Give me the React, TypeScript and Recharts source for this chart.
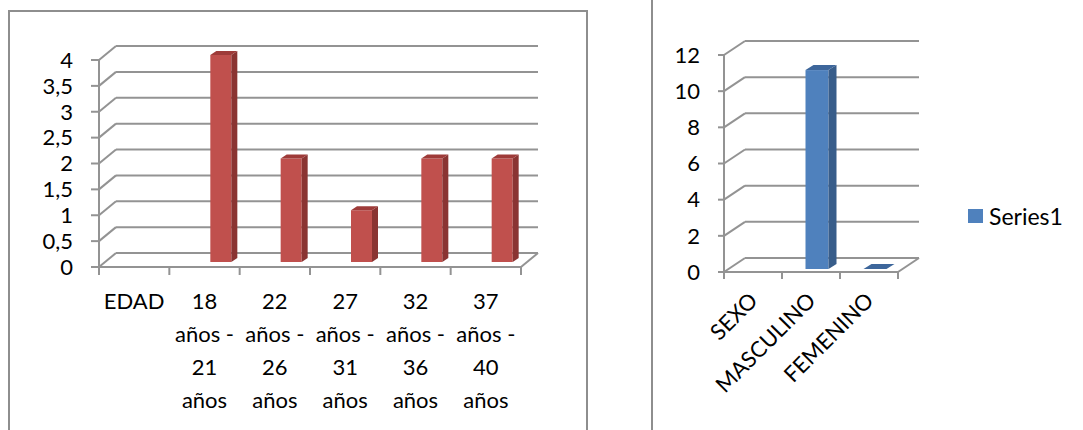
import { BarChart, Bar, XAxis, YAxis, CartesianGrid, Legend } from 'recharts';

// Age distribution
const edadCategories = ['EDAD', '18 años - 21 años', '22 años - 26 años', '27 años - 31 años', '32 años - 36 años', '37 años - 40 años'];
const edadValues = [null, 4, 2, 1, 2, 2];
const edadTicks = [0, 0.5, 1, 1.5, 2, 2.5, 3, 3.5, 4];

// Sex distribution
const sexoCategories = ['SEXO', 'MASCULINO', 'FEMENINO'];
const sexoValues = [null, 11, 0];
const sexoTicks = [0, 2, 4, 6, 8, 10, 12];
const seriesName = 'Series1';

const edadData = edadCategories.map((name, i) => ({ name, value: edadValues[i] }));
const sexoData = sexoCategories.map((name, i) => ({ name, value: sexoValues[i] }));

const FONT = 'Lato, "Open Sans", sans-serif';
const GRID = '#939393';

// back wall + left floor/side diagonals, drawn from each horizontal grid line
const wall = (dx: number, dy: number) => (props: any) => {
  const { x1, y1, x2, y2, index } = props;
  return (
    <g key={`wall-${index}-${y1}`}>
      <line x1={x1} y1={y1} x2={x1 + dx} y2={y1 - dy} stroke={GRID} strokeWidth={2} />
      <line x1={x1 + dx} y1={y1 - dy} x2={x2 + dx} y2={y2 - dy} stroke={GRID} strokeWidth={2} />
      {index === 0 && <line x1={x2} y1={y2} x2={x2 + dx} y2={y2 - dy} stroke={GRID} strokeWidth={2} />}
    </g>
  );
};

type PrismStyle = { dx: number; dy: number; depthX: number; depthY: number; front: string; side: string; top: string };

const prism = (o: PrismStyle) => (props: any) => {
  const { x, y, width, height, payload } = props;
  if (payload == null || payload.value == null) return <g />;
  const fx = x + o.dx;
  const fy = y + o.dy;
  const w = width;
  const h = height;
  const bx = fx + o.depthX;
  const by = fy - o.depthY;
  return (
    <g>
      {h > 0 && <rect x={fx} y={fy} width={w} height={h} fill={o.front} />}
      {h > 0 && (
        <polygon points={`${fx + w},${fy} ${bx + w},${by} ${bx + w},${by + h} ${fx + w},${fy + h}`} fill={o.side} />
      )}
      <polygon points={`${fx},${fy} ${bx},${by} ${bx + w},${by} ${fx + w},${fy}`} fill={o.top} />
    </g>
  );
};

// "18 años - 21 años" -> ["18", "años -", "21", "años"]
const splitLabel = (s: string) => {
  const parts = s.split(' - ');
  return parts.flatMap((p, i) => {
    const words = p.split(' ');
    if (words.length < 2) return [p + (i < parts.length - 1 ? ' -' : '')];
    return [words[0], words.slice(1).join(' ') + (i < parts.length - 1 ? ' -' : '')];
  });
};

const EdadTick = (props: any) => {
  const { x, y, payload, index } = props;
  const half = payload?.offset || 35;
  const lines = splitLabel(String(payload.value));
  return (
    <g>
      <line x1={x - half} y1={y} x2={x - half} y2={y + 8} stroke={GRID} strokeWidth={2} />
      {index === edadCategories.length - 1 && (
        <line x1={x + half} y1={y} x2={x + half} y2={y + 8} stroke={GRID} strokeWidth={2} />
      )}
      <text textAnchor="middle" fontFamily={FONT} fontSize={22} fill="#000">
        {lines.map((l, i) => (
          <tspan key={i} x={x} y={y + 42 + i * 33}>{l}</tspan>
        ))}
      </text>
    </g>
  );
};

const SexoTick = (props: any) => {
  const { x, y, payload, index } = props;
  const half = payload?.offset || 29;
  const px = x + 6;
  const py = y + 30;
  return (
    <g>
      <line x1={x - half} y1={y} x2={x - half} y2={y + 7} stroke={GRID} strokeWidth={2} />
      {index === sexoCategories.length - 1 && (
        <line x1={x + half} y1={y} x2={x + half} y2={y + 7} stroke={GRID} strokeWidth={2} />
      )}
      <text x={px} y={py} textAnchor="end" fontFamily={FONT} fontSize={22} fill="#000" transform={`rotate(-45 ${px} ${py})`}>
        {payload.value}
      </text>
    </g>
  );
};

const LegendContent = (props: any) => {
  const items = props.payload || [];
  return (
    <div style={{ fontFamily: FONT, fontSize: 23, color: '#000' }}>
      {items.map((it: any) => (
        <div key={it.value} style={{ display: 'flex', alignItems: 'center' }}>
          <span style={{ display: 'inline-block', width: 15, height: 14, background: it.color, marginRight: 6 }} />
          <span>{it.value}</span>
        </div>
      ))}
    </div>
  );
};

const axisTick = { fontFamily: FONT, fontSize: 22, fill: '#000' };

export default function App() {
  return (
    <div style={{ position: 'absolute', left: 0, top: 0, width: 1083, height: 430, overflow: 'hidden', background: '#fff' }}>
      <div style={{ position: 'absolute', left: 8, top: 10, width: 576, height: 440, border: '2px solid #8e8e8e' }} />
      <div style={{ position: 'absolute', left: 651, top: 0, width: 0, height: 430, borderLeft: '2px solid #8e8e8e' }} />

      <div style={{ position: 'absolute', left: 0, top: 0 }}>
        <BarChart width={600} height={430} data={edadData} margin={{ top: 60, right: 79, bottom: 133, left: 0 }} barSize={21}>
          <CartesianGrid vertical={false} horizontal={wall(17, 14)} />
          <XAxis
            dataKey="name"
            height={30}
            interval={0}
            tickLine={false}
            tickSize={0}
            tickMargin={0}
            axisLine={{ stroke: GRID, strokeWidth: 2 }}
            tick={<EdadTick />}
          />
          <YAxis
            width={99}
            domain={[0, 4]}
            ticks={edadTicks}
            interval={0}
            tickSize={8}
            tickMargin={18}
            tickFormatter={(v: number) => String(v).replace('.', ',')}
            axisLine={{ stroke: GRID, strokeWidth: 2 }}
            tickLine={{ stroke: GRID, strokeWidth: 2 }}
            tick={axisTick}
          />
          <Bar
            dataKey="value"
            name={seriesName}
            fill="#C0504D"
            isAnimationActive={false}
            shape={prism({ dx: 16, dy: -5, depthX: 6, depthY: 4, front: '#C0504D', side: '#8A3432', top: '#9E3B39' })}
          />
        </BarChart>
      </div>

      <div style={{ position: 'absolute', left: 655, top: 0 }}>
        <BarChart width={428} height={430} data={sexoData} margin={{ top: 55, right: 185, bottom: 128, left: 0 }} barSize={23}>
          <CartesianGrid vertical={false} horizontal={wall(21, 14)} />
          <XAxis
            dataKey="name"
            height={30}
            interval={0}
            tickLine={false}
            tickSize={0}
            tickMargin={0}
            axisLine={{ stroke: GRID, strokeWidth: 2 }}
            tick={<SexoTick />}
          />
          <YAxis
            width={69}
            domain={[0, 12]}
            ticks={sexoTicks}
            interval={0}
            tickSize={6}
            tickMargin={18}
            axisLine={{ stroke: GRID, strokeWidth: 2 }}
            tickLine={{ stroke: GRID, strokeWidth: 2 }}
            tick={axisTick}
          />
          <Legend
            layout="horizontal"
            align="center"
            verticalAlign="middle"
            wrapperStyle={{ left: 313, top: 202, width: 110 }}
            content={<LegendContent />}
          />
          <Bar
            dataKey="value"
            name={seriesName}
            fill="#4F81BD"
            isAnimationActive={false}
            shape={prism({ dx: 5.5, dy: -3, depthX: 8, depthY: 5, front: '#4F81BD', side: '#385D8A', top: '#3D669B' })}
          />
        </BarChart>
      </div>
    </div>
  );
}
